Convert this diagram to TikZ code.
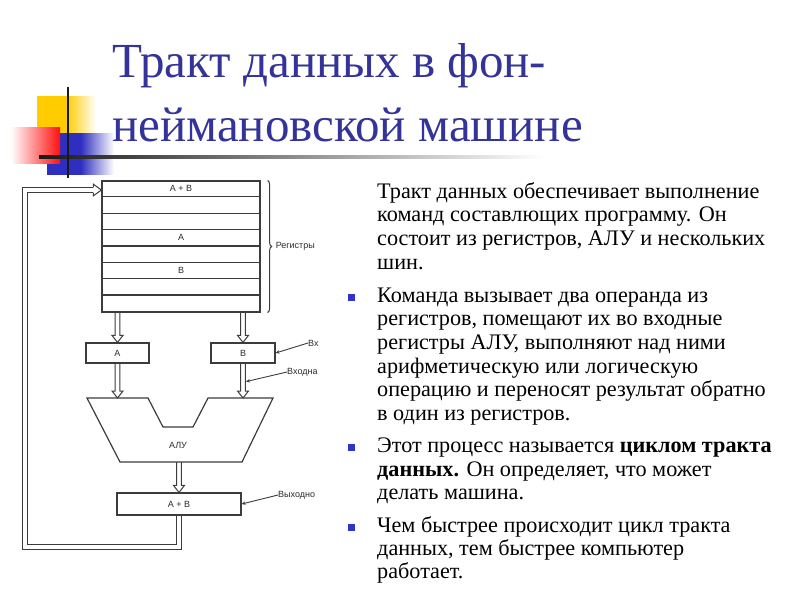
\documentclass[tikz,border=0pt]{standalone}
\usepackage{fontspec}
\setmainfont{Liberation Serif}
\newfontfamily\diagfont{Liberation Sans}
\usetikzlibrary{calc,decorations.pathreplacing,arrows.meta}
\definecolor{titleblue}{HTML}{333399}
\definecolor{bulblue}{HTML}{3333CC}
\definecolor{dline}{HTML}{3C3C3C}
\definecolor{dtext}{HTML}{2A2A2A}
\definecolor{decoyellow}{HTML}{FFCC00}
\definecolor{decoblue}{HTML}{2E2EC0}
\definecolor{decored}{HTML}{FF1010}
\newcommand{\harrow}[2]{\draw[dline, line width=1pt, line join=miter] let \p1=(#1), \p2=(#2) in (\x1-2.3pt,\y1) -- (\x1-2.3pt,\y2+7pt) -- (\x1-5.5pt,\y2+7pt) -- (\x1,\y2) -- (\x1+5.5pt,\y2+7pt) -- (\x1+2.3pt,\y2+7pt) -- (\x1+2.3pt,\y1);}
\begin{document}
\begin{tikzpicture}[x=1pt,y=-1pt,
  titletext/.style={anchor=base west, inner sep=0pt, text=titleblue, font=\fontsize{49}{49}\selectfont},
  bodytext/.style={anchor=base west, inner sep=0pt, font=\fontsize{22.2}{22.2}\selectfont},
  bulletsq/.style={fill=bulblue, minimum size=7pt, inner sep=0pt},
  lbl/.style={inner sep=0pt, text=dtext, font=\diagfont\fontsize{9}{9}\selectfont},
  box/.style={draw=dline, line width=1.2pt, inner sep=0pt, text=dtext, font=\diagfont\fontsize{9}{9}\selectfont},
  ptr/.style={dline, line width=0.9pt, -{Stealth[length=4pt,width=3.5pt]}},
]
\useasboundingbox (0,0) rectangle (800,600);
% decoration
\shade[left color=decoyellow, right color=white, middle color=decoyellow] (37,96) rectangle (96,133);
\shade[left color=decoblue, right color=white, middle color=decoblue] (47,133) rectangle (114,174);
\shade[left color=white, right color=decored] (11,127) rectangle (60,163);
\shade[left color=black!90, right color=white] (39,155.8) rectangle (545,158.2);
\draw[line width=2pt, black!90] (68,87) -- (68,178);
% title
\node[titletext] (t1) at (112,77) {Тракт данных в фон-};
\node[titletext] (t2) at (112,141) {неймановской машине};
% body
\node[bodytext] (b1) at (377,198) {Тракт данных обеспечивает выполнение};
\node[bodytext] (b2) at (377,221) {команд составлющих программу. Он};
\node[bodytext] (b3) at (377,245) {состоит из регистров, АЛУ и нескольких};
\node[bodytext] (b4) at (377,269) {шин.};
\node[bodytext] (b5) at (377,302) {Команда вызывает два операнда из};
\node[bodytext] (b6) at (377,325) {регистров, помещают их во входные};
\node[bodytext] (b7) at (377,349) {регистры АЛУ, выполняют над ними};
\node[bodytext] (b8) at (377,373) {арифметическую или логическую};
\node[bodytext] (b9) at (377,396) {операцию и переносят результат обратно};
\node[bodytext] (b10) at (377,420) {в один из регистров.};
\node[bodytext] (b11) at (377,452) {Этот процесс называется \textbf{циклом тракта}};
\node[bodytext] (b12) at (377,476) {\textbf{данных.} Он определяет, что может};
\node[bodytext] (b13) at (377,499) {делать машина.};
\node[bodytext] (b14) at (377,532) {Чем быстрее происходит цикл тракта};
\node[bodytext] (b15) at (377,555) {данных, тем быстрее компьютер};
\node[bodytext] (b16) at (377,578) {работает.};
\node[bulletsq] (u1) at (351.5,297) {};
\node[bulletsq] (u2) at (351.5,447) {};
\node[bulletsq] (u3) at (351.5,527) {};
% diagram
\node[box, minimum width=158pt, minimum height=131pt] (reg) at (181,246.5) {};
\foreach \i in {1,...,7}
  \draw[dline, line width=1.2pt] ($(reg.north west)+(0,\i*16.375)$) -- ($(reg.north east)+(0,\i*16.375)$);
\node[lbl] (rab) at ($(reg.north)+(0,8.2)$) {A + B};
\node[lbl] (ra) at ($(reg.north)+(0,57.3)$) {A};
\node[lbl] (rb) at ($(reg.north)+(0,90)$) {B};
\draw[dline, line width=1pt, decorate, decoration={brace, amplitude=4pt}] ($(reg.north east)+(7,0)$) -- ($(reg.south east)+(7,0)$);
\node[lbl, anchor=west] (lreg) at ($(reg.east)+(15,0)$) {Регистры};
\node[box, minimum width=63pt, minimum height=20pt] (A) at (117.5,353) {A};
\node[box, minimum width=64pt, minimum height=20pt] (B) at (243,353) {B};
\node[box, minimum width=124pt, minimum height=22pt] (out) at (179,504) {A + B};
\coordinate (aTL) at (87,398);
\coordinate (aN1) at (148,398);
\coordinate (aN2) at (163,427);
\coordinate (aN3) at (193,427);
\coordinate (aN4) at (208,398);
\coordinate (aTR) at (273,398);
\coordinate (aBR) at (242,462);
\coordinate (aBL) at (120,462);
\draw[dline, line width=1.2pt] (aTL) -- (aN1) -- (aN2) -- (aN3) -- (aN4) -- (aTR) -- (aBR) -- (aBL) -- cycle;
\node[lbl] (alu) at (178,445) {АЛУ};
\harrow{A.north |- reg.south}{A.north}
\harrow{B.north |- reg.south}{B.north}
\harrow{A.south}{A.south |- aTL}
\harrow{B.south}{B.south |- aTR}
\harrow{out.north |- aBL}{out.north}
% feedback loop
\coordinate (lb) at (25,547);
\coordinate (lt) at (25,190);
\draw[dline, line width=1pt, double=white, double distance=3.2pt] (out.south) -- (out.south |- lb) -- (lb) -- (lt) -- ($(reg.west |- lt)+(-8,0)$);
\draw[dline, line width=1pt, line join=miter] let \p1=(reg.west |- lt) in (\x1-8pt,\y1+2.6pt) -- (\x1-8pt,\y1+5.8pt) -- (\x1,\y1) -- (\x1-8pt,\y1-5.8pt) -- (\x1-8pt,\y1-2.6pt);
% pointers
\node[lbl, anchor=west] (lvx) at (308,343) {Вх};
\draw[ptr] (lvx.west) -- (B.east);
\node[lbl, anchor=west] (lin) at (287,372) {Входна};
\coordinate (bsh) at ($(B.south)+(3,18)$);
\draw[ptr] (lin.west) -- (bsh);
\node[lbl, anchor=west] (lout) at (278,495) {Выходно};
\draw[ptr] (lout.west) -- (out.east);
\end{tikzpicture}
\end{document}
